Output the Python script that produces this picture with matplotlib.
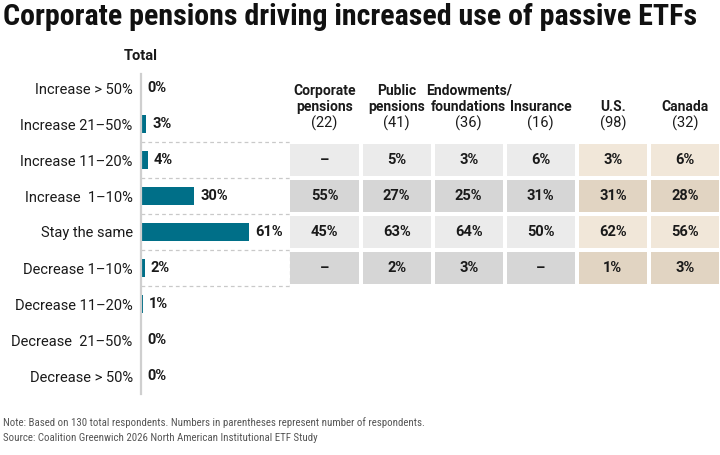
import matplotlib.pyplot as plt

# ------------------------------
# data
# ------------------------------
categories = ["Increase > 50%", "Increase 21–50%", "Increase 11–20%", "Increase  1–10%",
              "Stay the same", "Decrease 1–10%", "Decrease 11–20%", "Decrease  21–50%",
              "Decrease > 50%"]
total = [0, 3, 4, 30, 61, 2, 1, 0, 0]

col_names = ["Corporate\npensions", "Public\npensions", "Endowments/\nfoundations",
             "Insurance", "U.S.", "Canada"]
col_counts = [22, 41, 36, 16, 98, 32]

# table rows: Increase 11–20%, Increase 1–10%, Stay the same, Decrease 1–10%
table_rows = [2, 3, 4, 5]
corporate = [None, 55, 45, None]
public = [5, 27, 63, 2]
endowments = [3, 25, 64, 3]
insurance = [6, 31, 50, None]
us = [3, 31, 62, 1]
canada = [6, 28, 56, 3]
table_cols = [corporate, public, endowments, insurance, us, canada]

title = "Corporate pensions driving increased use of passive ETFs"
note = "Note: Based on 130 total respondents. Numbers in parentheses represent number of respondents."
source = "Source: Coalition Greenwich 2026 North American Institutional ETF Study"

# ------------------------------
# style
# ------------------------------
plt.rcParams['font.family'] = ['Roboto', 'DejaVu Sans']
NARROW = ['Liberation Sans Narrow', 'Roboto Condensed', 'Roboto', 'DejaVu Sans']
TXT = '#1a1a1a'
BAR = '#006f88'
GRAY = ['#ebebeb', '#d6d6d6']
BEIGE = ['#f1e7d9', '#e1d4c2']
DASH = '#c9c9c9'

W, H = 720, 455
fig = plt.figure(figsize=(W / 100, H / 100), dpi=100)


def box(l, t, r, b):
    return [l / W, 1 - b / H, (r - l) / W, (b - t) / H]


# ------------------------------
# Total bars
# ------------------------------
ax = fig.add_axes(box(141, 70, 290, 394))
y = list(range(len(categories)))
ax.barh(y, total, height=0.48, color=BAR)
ax.set_xlim(0, 148.5 / 1.77)
ax.set_ylim(8.5, -0.5)
for i, v in enumerate(total):
    ax.annotate(f"{v}%", (v, i), xytext=(6, 0), textcoords='offset pixels',
                va='center', ha='left', fontsize=10.5, fontweight='bold', color=TXT)

ax.set_yticks(y)
ax.set_yticklabels(categories, fontsize=10.5, color=TXT)
ax.tick_params(axis='y', length=0, pad=6)
ax.set_xticks([])
for s in ['top', 'right', 'bottom']:
    ax.spines[s].set_visible(False)
ax.spines['left'].set_color('#cfcfcf')
ax.spines['left'].set_linewidth(1.6)
ax.spines['left'].set_bounds(8.5, -0.4)

for b in [1.5, 2.5, 3.5, 4.5, 5.5]:
    ax.axhline(b, color=DASH, lw=0.9, ls=(0, (3, 2.5)))
ax.vlines(ax.get_xlim()[1], 4.5, 5.5, color=DASH, lw=0.9, ls=(0, (3, 2.5)))

ax.text(0, -0.88, "Total", ha='center', va='center', fontsize=10.5,
        fontweight='bold', color=TXT)

# ------------------------------
# table of segments
# ------------------------------
ax_t = fig.add_axes(box(288.5, 70, 721, 394))
ax_t.set_xlim(-0.5, 5.5)
ax_t.set_ylim(8.5, -0.5)
ax_t.axis('off')

for c, vals in enumerate(table_cols):
    shades = BEIGE if c >= 4 else GRAY
    for k, r in enumerate(table_rows):
        ax_t.bar(c, 0.9, width=0.945, bottom=r - 0.45, color=shades[k % 2])
        label = "–" if vals[k] is None else f"{vals[k]}%"
        ax_t.text(c, r, label, ha='center', va='center', fontsize=10.5,
                  fontweight='bold', color=TXT)
    ax_t.text(c, 0.72, col_names[c], ha='center', va='bottom', fontsize=10,
              fontweight='bold', color=TXT, linespacing=1.2)
    ax_t.text(c, 0.99, f"({col_counts[c]})", ha='center', va='center',
              fontsize=10.5, color=TXT)

# ------------------------------
# title and notes
# ------------------------------
fig.text(3 / W, 1 - 17 / H, title, ha='left', va='center', fontsize=21.6,
         fontweight='bold', color='#111111', family=NARROW)
fig.text(3 / W, 1 - 423 / H, note, ha='left', va='center', fontsize=7.8,
         color='#555555', family=NARROW)
fig.text(3 / W, 1 - 438 / H, source, ha='left', va='center', fontsize=7.8,
         color='#555555', family=NARROW)

fig.savefig("out.png", dpi=100)
